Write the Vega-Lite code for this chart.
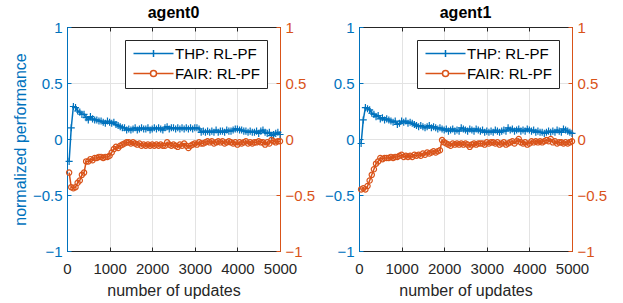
{
"$schema": "https://vega.github.io/schema/vega-lite/v6.json",
"padding": {"left": 11, "top": 4, "right": 4, "bottom": 2},
"bounds": "flush",
"spacing": 79,
"config": {
  "font": "Liberation Sans",
  "view": {"stroke": "#262626", "strokeWidth": 1},
  "axis": {"labelFontSize": 15, "titleFontSize": 16, "titleFontWeight": "normal", "labelColor": "#262626", "titleColor": "#262626", "domainColor": "#262626", "tickColor": "#262626", "gridColor": "#e3e3e3", "tickSize": -4, "labelPadding": 9, "labelOverlap": false, "labelFlush": false},
  "title": {"fontSize": 16, "fontWeight": "bold", "color": "#000000", "offset": -1},
  "legend": {"orient": "top-right", "offset": 13, "padding": 6, "strokeColor": "#262626", "fillColor": "white", "labelFontSize": 15, "labelColor": "#000000", "symbolSize": 100, "symbolStrokeWidth": 1.5, "rowPadding": 4, "labelOffset": 29, "cornerRadius": 0}
},
"datasets": {
"a0": [
{"x":50,"t":-0.20,"f":-0.30},{"x":100,"t":0.10,"f":-0.43},{"x":150,"t":0.29,"f":-0.44},{"x":200,"t":0.28,"f":-0.43},{"x":250,"t":0.25,"f":-0.39},{"x":300,"t":0.24,"f":-0.37},{"x":350,"t":0.22,"f":-0.32},{"x":400,"t":0.22,"f":-0.30},{"x":450,"t":0.19,"f":-0.20},{"x":500,"t":0.17,"f":-0.20},
{"x":550,"t":0.20,"f":-0.18},{"x":600,"t":0.18,"f":-0.19},{"x":650,"t":0.17,"f":-0.17},{"x":700,"t":0.17,"f":-0.17},{"x":750,"t":0.16,"f":-0.16},{"x":800,"t":0.16,"f":-0.16},{"x":850,"t":0.15,"f":-0.17},{"x":900,"t":0.14,"f":-0.16},{"x":950,"t":0.16,"f":-0.16},{"x":1000,"t":0.15,"f":-0.15},
{"x":1050,"t":0.14,"f":-0.12},{"x":1100,"t":0.15,"f":-0.09},{"x":1150,"t":0.13,"f":-0.07},{"x":1200,"t":0.12,"f":-0.08},{"x":1250,"t":0.11,"f":-0.06},{"x":1300,"t":0.10,"f":-0.05},{"x":1350,"t":0.10,"f":-0.04},{"x":1400,"t":0.08,"f":-0.03},{"x":1450,"t":0.09,"f":-0.03},{"x":1500,"t":0.08,"f":-0.04},
{"x":1550,"t":0.09,"f":-0.03},{"x":1600,"t":0.10,"f":-0.04},{"x":1650,"t":0.08,"f":-0.05},{"x":1700,"t":0.09,"f":-0.04},{"x":1750,"t":0.10,"f":-0.06},{"x":1800,"t":0.09,"f":-0.05},{"x":1850,"t":0.09,"f":-0.06},{"x":1900,"t":0.10,"f":-0.05},{"x":1950,"t":0.08,"f":-0.06},{"x":2000,"t":0.09,"f":-0.05},
{"x":2050,"t":0.10,"f":-0.06},{"x":2100,"t":0.09,"f":-0.05},{"x":2150,"t":0.10,"f":-0.06},{"x":2200,"t":0.09,"f":-0.05},{"x":2250,"t":0.08,"f":-0.06},{"x":2300,"t":0.10,"f":-0.06},{"x":2350,"t":0.11,"f":-0.03},{"x":2400,"t":0.09,"f":-0.05},{"x":2450,"t":0.10,"f":-0.06},{"x":2500,"t":0.10,"f":-0.05},
{"x":2550,"t":0.09,"f":-0.06},{"x":2600,"t":0.10,"f":-0.07},{"x":2650,"t":0.09,"f":-0.05},{"x":2700,"t":0.10,"f":-0.06},{"x":2750,"t":0.09,"f":-0.04},{"x":2800,"t":0.10,"f":-0.06},{"x":2850,"t":0.09,"f":-0.08},{"x":2900,"t":0.10,"f":-0.06},{"x":2950,"t":0.09,"f":-0.05},{"x":3000,"t":0.10,"f":-0.04},
{"x":3050,"t":0.10,"f":-0.05},{"x":3100,"t":0.09,"f":-0.03},{"x":3150,"t":0.06,"f":-0.04},{"x":3200,"t":0.07,"f":-0.04},{"x":3250,"t":0.06,"f":-0.03},{"x":3300,"t":0.07,"f":-0.02},{"x":3350,"t":0.06,"f":-0.03},{"x":3400,"t":0.07,"f":-0.02},{"x":3450,"t":0.06,"f":-0.04},{"x":3500,"t":0.08,"f":-0.03},
{"x":3550,"t":0.06,"f":-0.02},{"x":3600,"t":0.07,"f":-0.03},{"x":3650,"t":0.07,"f":-0.02},{"x":3700,"t":0.06,"f":-0.04},{"x":3750,"t":0.08,"f":-0.03},{"x":3800,"t":0.07,"f":-0.02},{"x":3850,"t":0.07,"f":-0.03},{"x":3900,"t":0.08,"f":-0.04},{"x":3950,"t":0.09,"f":-0.03},{"x":4000,"t":0.09,"f":-0.05},
{"x":4050,"t":0.08,"f":-0.03},{"x":4100,"t":0.08,"f":-0.04},{"x":4150,"t":0.07,"f":-0.03},{"x":4200,"t":0.07,"f":-0.02},{"x":4250,"t":0.06,"f":-0.04},{"x":4300,"t":0.07,"f":-0.03},{"x":4350,"t":0.06,"f":-0.04},{"x":4400,"t":0.06,"f":-0.03},{"x":4450,"t":0.07,"f":-0.03},{"x":4500,"t":0.05,"f":-0.02},
{"x":4550,"t":0.07,"f":-0.03},{"x":4600,"t":0.08,"f":-0.03},{"x":4650,"t":0.06,"f":-0.05},{"x":4700,"t":0.05,"f":-0.03},{"x":4750,"t":0.06,"f":-0.04},{"x":4800,"t":0.03,"f":-0.01},{"x":4850,"t":0.04,"f":-0.02},{"x":4900,"t":0.05,"f":-0.03},{"x":4950,"t":0.06,"f":-0.02},{"x":5000,"t":0.04,"f":-0.02}
],
"a1": [
{"x":50,"t":-0.04,"f":-0.45},{"x":100,"t":0.17,"f":-0.44},{"x":150,"t":0.28,"f":-0.45},{"x":200,"t":0.27,"f":-0.42},{"x":250,"t":0.26,"f":-0.37},{"x":300,"t":0.23,"f":-0.32},{"x":350,"t":0.22,"f":-0.27},{"x":400,"t":0.20,"f":-0.22},{"x":450,"t":0.21,"f":-0.20},{"x":500,"t":0.18,"f":-0.17},
{"x":550,"t":0.19,"f":-0.18},{"x":600,"t":0.17,"f":-0.17},{"x":650,"t":0.18,"f":-0.17},{"x":700,"t":0.17,"f":-0.17},{"x":750,"t":0.16,"f":-0.16},{"x":800,"t":0.15,"f":-0.17},{"x":850,"t":0.16,"f":-0.16},{"x":900,"t":0.13,"f":-0.16},{"x":950,"t":0.14,"f":-0.15},{"x":1000,"t":0.16,"f":-0.14},
{"x":1050,"t":0.15,"f":-0.16},{"x":1100,"t":0.16,"f":-0.15},{"x":1150,"t":0.14,"f":-0.16},{"x":1200,"t":0.15,"f":-0.15},{"x":1250,"t":0.14,"f":-0.16},{"x":1300,"t":0.13,"f":-0.14},{"x":1350,"t":0.12,"f":-0.15},{"x":1400,"t":0.11,"f":-0.14},{"x":1450,"t":0.12,"f":-0.15},{"x":1500,"t":0.11,"f":-0.13},
{"x":1550,"t":0.10,"f":-0.14},{"x":1600,"t":0.11,"f":-0.12},{"x":1650,"t":0.12,"f":-0.13},{"x":1700,"t":0.10,"f":-0.12},{"x":1750,"t":0.11,"f":-0.11},{"x":1800,"t":0.10,"f":-0.12},{"x":1850,"t":0.09,"f":-0.11},{"x":1900,"t":0.10,"f":-0.10},{"x":1950,"t":0.09,"f":-0.01},{"x":2000,"t":0.08,"f":-0.03},
{"x":2050,"t":0.09,"f":-0.04},{"x":2100,"t":0.07,"f":-0.05},{"x":2150,"t":0.08,"f":-0.06},{"x":2200,"t":0.09,"f":-0.04},{"x":2250,"t":0.07,"f":-0.05},{"x":2300,"t":0.08,"f":-0.04},{"x":2350,"t":0.07,"f":-0.05},{"x":2400,"t":0.10,"f":-0.04},{"x":2450,"t":0.09,"f":-0.05},{"x":2500,"t":0.08,"f":-0.04},
{"x":2550,"t":0.07,"f":-0.05},{"x":2600,"t":0.09,"f":-0.07},{"x":2650,"t":0.08,"f":-0.05},{"x":2700,"t":0.07,"f":-0.04},{"x":2750,"t":0.09,"f":-0.05},{"x":2800,"t":0.08,"f":-0.04},{"x":2850,"t":0.07,"f":-0.04},{"x":2900,"t":0.08,"f":-0.04},{"x":2950,"t":0.06,"f":-0.05},{"x":3000,"t":0.07,"f":-0.03},
{"x":3050,"t":0.06,"f":-0.04},{"x":3100,"t":0.07,"f":-0.03},{"x":3150,"t":0.06,"f":-0.03},{"x":3200,"t":0.08,"f":-0.04},{"x":3250,"t":0.07,"f":-0.03},{"x":3300,"t":0.06,"f":-0.05},{"x":3350,"t":0.07,"f":-0.04},{"x":3400,"t":0.08,"f":-0.03},{"x":3450,"t":0.07,"f":-0.05},{"x":3500,"t":0.10,"f":-0.04},
{"x":3550,"t":0.08,"f":-0.03},{"x":3600,"t":0.09,"f":-0.02},{"x":3650,"t":0.07,"f":-0.04},{"x":3700,"t":0.08,"f":-0.02},{"x":3750,"t":0.09,"f":0.00},{"x":3800,"t":0.07,"f":-0.03},{"x":3850,"t":0.08,"f":-0.04},{"x":3900,"t":0.07,"f":-0.03},{"x":3950,"t":0.09,"f":-0.05},{"x":4000,"t":0.08,"f":-0.04},
{"x":4050,"t":0.07,"f":-0.02},{"x":4100,"t":0.08,"f":-0.03},{"x":4150,"t":0.06,"f":-0.02},{"x":4200,"t":0.07,"f":-0.03},{"x":4250,"t":0.06,"f":-0.02},{"x":4300,"t":0.06,"f":-0.03},{"x":4350,"t":0.05,"f":-0.02},{"x":4400,"t":0.06,"f":-0.01},{"x":4450,"t":0.07,"f":-0.02},{"x":4500,"t":0.06,"f":0.00},
{"x":4550,"t":0.07,"f":-0.03},{"x":4600,"t":0.06,"f":-0.02},{"x":4650,"t":0.08,"f":-0.04},{"x":4700,"t":0.07,"f":-0.03},{"x":4750,"t":0.06,"f":-0.03},{"x":4800,"t":0.09,"f":-0.04},{"x":4850,"t":0.08,"f":-0.03},{"x":4900,"t":0.07,"f":-0.04},{"x":4950,"t":0.06,"f":-0.03},{"x":5000,"t":0.05,"f":-0.02}
]
},
"resolve": {"scale": {"color": "independent"}, "legend": {"color": "independent"}},
"hconcat": [
{
  "title": "agent0",
  "width": 213, "height": 224,
  "data": {"name": "a0"},
  "resolve": {"scale": {"y": "independent"}, "axis": {"x": "independent"}},
  "layer": [
    {
      "encoding": {
        "x": {"field": "x", "type": "quantitative", "scale": {"domain": [0, 5000], "nice": false}, "axis": {"title": "number of updates", "format": "d", "values": [0,1000,2000,3000,4000,5000], "grid": true, "labelPadding": 14, "titlePadding": 6}},
        "y": {"field": "t", "type": "quantitative", "scale": {"domain": [-1, 1], "nice": false}, "axis": {"title": "normalized performance", "format": "~g", "orient": "left", "values": [-1,-0.5,0,0.5,1], "grid": true, "labelColor": "#0072BD", "titleColor": "#0072BD", "domainColor": "#0072BD", "tickColor": "#0072BD", "titlePadding": 4}}},
      "layer": [
        {"mark": {"type": "line", "strokeWidth": 1.5}, "encoding": {"color": {"datum": "THP: RL-PF", "type": "nominal", "scale": {"domain": ["THP: RL-PF", "FAIR: RL-PF"], "range": ["#0072BD", "#D95319"]}, "legend": {"title": null, "encode": {"symbols": {"update": {"shape": {"signal": "datum.value === 'THP: RL-PF' ? 'M-1,0H7M3,-0.7V0.7' : 'M-1,0H2.4A0.6,0.6 0 1,1 3.6,0A0.6,0.6 0 1,1 2.4,0M3.6,0H7'"}, "fill": {"value": "transparent"}, "strokeWidth": {"value": 1.5}}}}}}}},
        {"mark": {"type": "point", "shape": "M-1,0H1M0,-1V1", "filled": false, "size": 50, "strokeWidth": 1.2, "color": "#0072BD", "opacity": 1}}
      ]
    },
    {
      "encoding": {
        "x": {"field": "x", "type": "quantitative", "axis": {"orient": "top", "title": null, "labels": false, "grid": false, "domainColor": "#262626", "values": [0,1000,2000,3000,4000,5000]}},
        "y": {"field": "f", "type": "quantitative", "scale": {"domain": [-1, 1], "nice": false}, "axis": {"title": null, "format": "~g", "orient": "right", "values": [-1,-0.5,0,0.5,1], "grid": false, "labelColor": "#D95319", "domainColor": "#D95319", "tickColor": "#D95319"}}},
      "layer": [
        {"mark": {"type": "line", "strokeWidth": 1.5}, "encoding": {"color": {"datum": "FAIR: RL-PF", "type": "nominal"}}},
        {"mark": {"type": "point", "shape": "circle", "filled": false, "size": 28, "strokeWidth": 1.2, "color": "#D95319", "opacity": 1}}
      ]
    }
  ]
},
{
  "title": "agent1",
  "width": 213, "height": 224,
  "data": {"name": "a1"},
  "resolve": {"scale": {"y": "independent"}, "axis": {"x": "independent"}},
  "layer": [
    {
      "encoding": {
        "x": {"field": "x", "type": "quantitative", "scale": {"domain": [0, 5000], "nice": false}, "axis": {"title": "number of updates", "format": "d", "values": [0,1000,2000,3000,4000,5000], "grid": true, "labelPadding": 14, "titlePadding": 6}},
        "y": {"field": "t", "type": "quantitative", "scale": {"domain": [-1, 1], "nice": false}, "axis": {"title": null, "format": "~g", "orient": "left", "values": [-1,-0.5,0,0.5,1], "grid": true, "labelColor": "#0072BD", "domainColor": "#0072BD", "tickColor": "#0072BD"}}},
      "layer": [
        {"mark": {"type": "line", "strokeWidth": 1.5}, "encoding": {"color": {"datum": "THP: RL-PF", "type": "nominal", "scale": {"domain": ["THP: RL-PF", "FAIR: RL-PF"], "range": ["#0072BD", "#D95319"]}, "legend": {"title": null, "encode": {"symbols": {"update": {"shape": {"signal": "datum.value === 'THP: RL-PF' ? 'M-1,0H7M3,-0.7V0.7' : 'M-1,0H2.4A0.6,0.6 0 1,1 3.6,0A0.6,0.6 0 1,1 2.4,0M3.6,0H7'"}, "fill": {"value": "transparent"}, "strokeWidth": {"value": 1.5}}}}}}}},
        {"mark": {"type": "point", "shape": "M-1,0H1M0,-1V1", "filled": false, "size": 50, "strokeWidth": 1.2, "color": "#0072BD", "opacity": 1}}
      ]
    },
    {
      "encoding": {
        "x": {"field": "x", "type": "quantitative", "axis": {"orient": "top", "title": null, "labels": false, "grid": false, "domainColor": "#262626", "values": [0,1000,2000,3000,4000,5000]}},
        "y": {"field": "f", "type": "quantitative", "scale": {"domain": [-1, 1], "nice": false}, "axis": {"title": null, "format": "~g", "orient": "right", "values": [-1,-0.5,0,0.5,1], "grid": false, "labelColor": "#D95319", "domainColor": "#D95319", "tickColor": "#D95319"}}},
      "layer": [
        {"mark": {"type": "line", "strokeWidth": 1.5}, "encoding": {"color": {"datum": "FAIR: RL-PF", "type": "nominal"}}},
        {"mark": {"type": "point", "shape": "circle", "filled": false, "size": 28, "strokeWidth": 1.2, "color": "#D95319", "opacity": 1}}
      ]
    }
  ]
}
]
}
